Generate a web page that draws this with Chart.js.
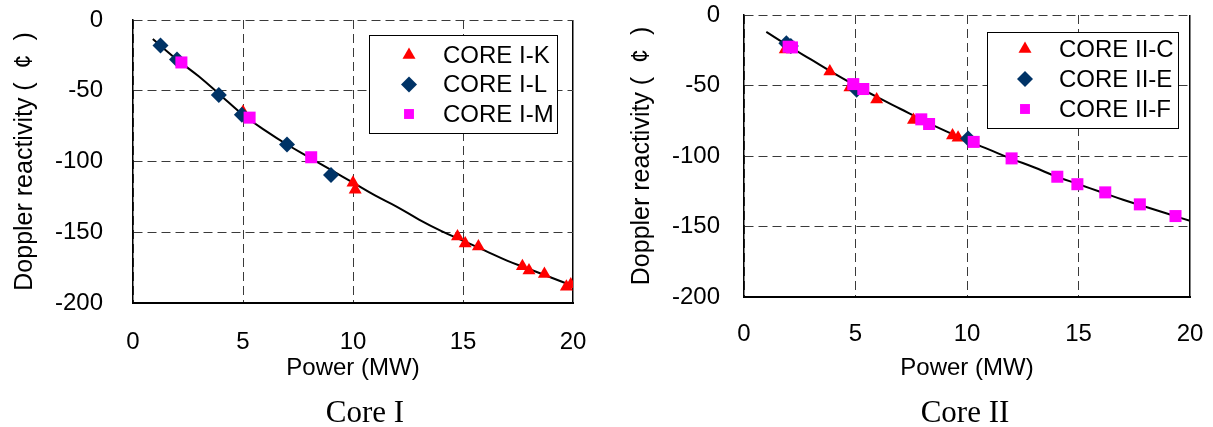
<!DOCTYPE html>
<html>
<head>
<meta charset="utf-8">
<script src="https://cdn.jsdelivr.net/npm/chart.js@4.4.0/dist/chart.umd.min.js"></script>
<style>
  html, body { margin: 0; padding: 0; background: #fff; }
  #wrap { position: relative; width: 1213px; height: 427px; overflow: hidden; }
  .panel { position: absolute; top: 0; height: 427px; }
  .caption { position: absolute; font-family: "Liberation Serif", "Times New Roman", serif; font-size: 31px; color: #000; transform: translate(-50%, -50%); white-space: nowrap; }
</style>
</head>
<body>
<div id="wrap">
  <div class="panel" style="left:0; width:600px;"><canvas id="core1"></canvas></div>
  <div class="panel" style="left:605px; width:608px;"><canvas id="core2"></canvas></div>
  <div class="caption" style="left:365px; top:412px;">Core I</div>
  <div class="caption" style="left:965px; top:412px;">Core II</div>
</div>
<script>
// ==================== DATA ====================
// Core I measurements (power in MW, reactivity in cents)
const coreK_x = [5.0, 10.0, 10.1, 14.75, 15.1, 15.7, 17.7, 18.0, 18.7, 19.7, 19.9];
const coreK_y = [-65, -115, -120, -153, -158, -160, -174, -177, -179.5, -188.5, -187];
const coreL_x = [1.25, 2.0, 3.9, 4.95, 7.0, 9.0];
const coreL_y = [-18, -28, -53, -67, -88, -109.5];
const coreM_x = [2.2, 5.3, 8.1];
const coreM_y = [-30, -69, -97];
// fitted curve, Core I
const fit1_x = [0.9, 2, 3, 4, 5, 6, 7, 8, 9, 10, 11, 12, 13, 14, 15, 16, 17, 18, 19, 20];
const fit1_y = [-13.5, -28, -40, -53.5, -67, -78, -88, -97, -106, -115, -124, -132, -141, -149, -156, -163, -170, -176, -182, -188];

// Core II measurements
const coreC_x = [1.85, 3.85, 4.75, 5.95, 7.6, 9.35, 9.6];
const coreC_y = [-24.5, -40, -51.5, -60, -74.5, -85.5, -87];
const coreE_x = [1.9, 2.1, 5.05, 10.05];
const coreE_y = [-20, -22, -53, -87.5];
const coreF_x = [2.0, 2.15, 4.9, 5.35, 7.95, 8.3, 10.3, 12.0, 14.05, 14.95, 16.2, 17.75, 19.35];
const coreF_y = [-22.5, -23, -49, -52.5, -74, -77.3, -90, -101.7, -114.7, -120, -125.8, -134.3, -142.6];
// fitted curve, Core II
const fit2_x = [1, 2, 3, 4, 5, 6, 7, 8, 9, 10, 11, 12, 13, 14, 15, 16, 17, 18, 19, 20];
const fit2_y = [-12, -22, -31.5, -41, -50, -58.5, -66.5, -74.5, -82, -89, -95.5, -102, -108, -114.5, -120, -125.5, -131, -136, -141, -146];

const xTicks = [0, 5, 10, 15, 20];
const yTicks = [0, -50, -100, -150, -200];

// ==================== HELPERS ====================
const FONT = "'Liberation Sans', Arial, sans-serif";
const RED = '#ff0000', NAVY = '#003366', MAGENTA = '#ff00ff';

const toPoints = (xs, ys) => xs.map((x, i) => ({ x: x, y: ys[i] }));

function markerSet(label, xs, ys, style, color, radius, order) {
    return {
        label: label,
        data: toPoints(xs, ys),
        pointStyle: style,
        pointRadius: radius,
        pointBackgroundColor: color,
        pointBorderColor: color,
        pointBorderWidth: 0,
        showLine: false,
        order: order
    };
}

function fitSet(xs, ys) {
    return {
        label: 'fit',
        data: toPoints(xs, ys),
        showLine: true,
        borderColor: '#000',
        borderWidth: 2,
        pointRadius: 0,
        tension: 0.4,
        order: 10
    };
}

// boxed legend drawn inside the plot area
const boxLegend = {
    id: 'boxLegend',
    afterDraw(chart, args, opts) {
        const ctx = chart.ctx;
        const area = chart.chartArea;
        const left = area.right - opts.inset - opts.width;
        const top = area.top + opts.top;
        ctx.save();
        ctx.fillStyle = '#fff';
        ctx.fillRect(left, top, opts.width, opts.height);
        ctx.strokeStyle = '#000';
        ctx.lineWidth = 1;
        ctx.strokeRect(Math.round(left) + 0.5, Math.round(top) + 0.5, opts.width, opts.height);
        const sets = chart.data.datasets.filter(d => d.label !== 'fit');
        sets.forEach((ds, i) => {
            const cy = top + opts.firstRow + i * opts.rowGap;
            ctx.fillStyle = ds.pointBackgroundColor;
            Chart.helpers.drawPoint(ctx, { pointStyle: ds.pointStyle, radius: opts.markerRadius[i], rotation: 0, borderWidth: 0 }, left + opts.markerX, cy);
            ctx.fillStyle = '#000';
            ctx.font = '24px ' + FONT;
            ctx.textBaseline = 'middle';
            ctx.textAlign = 'left';
            ctx.fillText(ds.label, left + opts.textX, cy + 1);
        });
        ctx.restore();
    }
};

function buildOptions(cfg) {
    return {
        responsive: true,
        maintainAspectRatio: false,
        animation: false,
        layout: { padding: cfg.padding },
        plugins: {
            legend: { display: false },
            tooltip: { enabled: false },
            boxLegend: cfg.legend
        },
        scales: {
            x: {
                type: 'linear', min: 0, max: 20,
                afterBuildTicks: s => { s.ticks = xTicks.map(v => ({ value: v })); },
                // fixed axis band; edge labels must not shrink the plot
                afterFit: s => { s.height = cfg.xHeight; s.paddingLeft = 0; s.paddingRight = 0; },
                ticks: { padding: cfg.xTickPad, color: '#000', font: { family: FONT, size: 24 } },
                grid: {
                    drawTicks: false,
                    color: c => (c.tick && c.tick.value === 20 ? '#000' : '#3a3a3a'),
                    lineWidth: c => (c.tick && c.tick.value === 20 ? 1.5 : 1)
                },
                border: { display: true, color: '#000', width: 2, dash: c => (c.tick && c.tick.value === 20 ? [] : [9, 5]) },
                title: { display: true, text: 'Power (MW)', color: '#000', font: { family: FONT, size: 24 }, padding: { top: 0, bottom: 0 } }
            },
            y: {
                type: 'linear', min: -200, max: 0,
                afterBuildTicks: s => { s.ticks = yTicks.map(v => ({ value: v })); },
                afterFit: s => { s.width = cfg.yWidth; s.paddingTop = 0; s.paddingBottom = 0; },
                ticks: { padding: cfg.yTickPad, color: '#000', font: { family: FONT, size: 24 } },
                grid: { drawTicks: false, color: '#3a3a3a', lineWidth: 1 },
                border: { display: true, color: '#000', width: 1.5, dash: [9, 5] },
                title: { display: true, text: 'Doppler reactivity (  \u00A2  )', color: '#000', font: { family: FONT, size: 25 }, padding: { top: cfg.yTitlePad, bottom: 0 } }
            }
        }
    };
}

// ==================== CORE I ====================
new Chart(document.getElementById('core1'), {
    type: 'scatter',
    data: {
        datasets: [
            markerSet('CORE I-K', coreK_x, coreK_y, 'triangle', RED, 7.5, 3),
            markerSet('CORE I-L', coreL_x, coreL_y, 'rectRot', NAVY, 8, 2),
            markerSet('CORE I-M', coreM_x, coreM_y, 'rect', MAGENTA, 8.5, 1),
            fitSet(fit1_x, fit1_y)
        ]
    },
    options: buildOptions({
        padding: { left: 0, top: 20, right: 27, bottom: 44 },
        xHeight: 80, xTickPad: 25, yWidth: 133, yTickPad: 30, yTitlePad: 10,
        legend: { inset: 16, top: 15, width: 188, height: 98, markerX: 40, textX: 74, firstRow: 20, rowGap: 29.5, markerRadius: [7.5, 8, 7] }
    }),
    plugins: [boxLegend]
});

// ==================== CORE II ====================
new Chart(document.getElementById('core2'), {
    type: 'scatter',
    data: {
        datasets: [
            markerSet('CORE II-C', coreC_x, coreC_y, 'triangle', RED, 7.5, 3),
            markerSet('CORE II-E', coreE_x, coreE_y, 'rectRot', NAVY, 8, 2),
            markerSet('CORE II-F', coreF_x, coreF_y, 'rect', MAGENTA, 8.5, 1),
            fitSet(fit2_x, fit2_y)
        ]
    },
    options: buildOptions({
        padding: { left: 0, top: 15, right: 23, bottom: 44 },
        xHeight: 86, xTickPad: 23, yWidth: 139, yTickPad: 24, yTitlePad: 22,
        legend: { inset: 12, top: 17, width: 191, height: 96, markerX: 38, textX: 72, firstRow: 17, rowGap: 30, markerRadius: [7.5, 8, 7] }
    }),
    plugins: [boxLegend]
});
</script>
</body>
</html>
